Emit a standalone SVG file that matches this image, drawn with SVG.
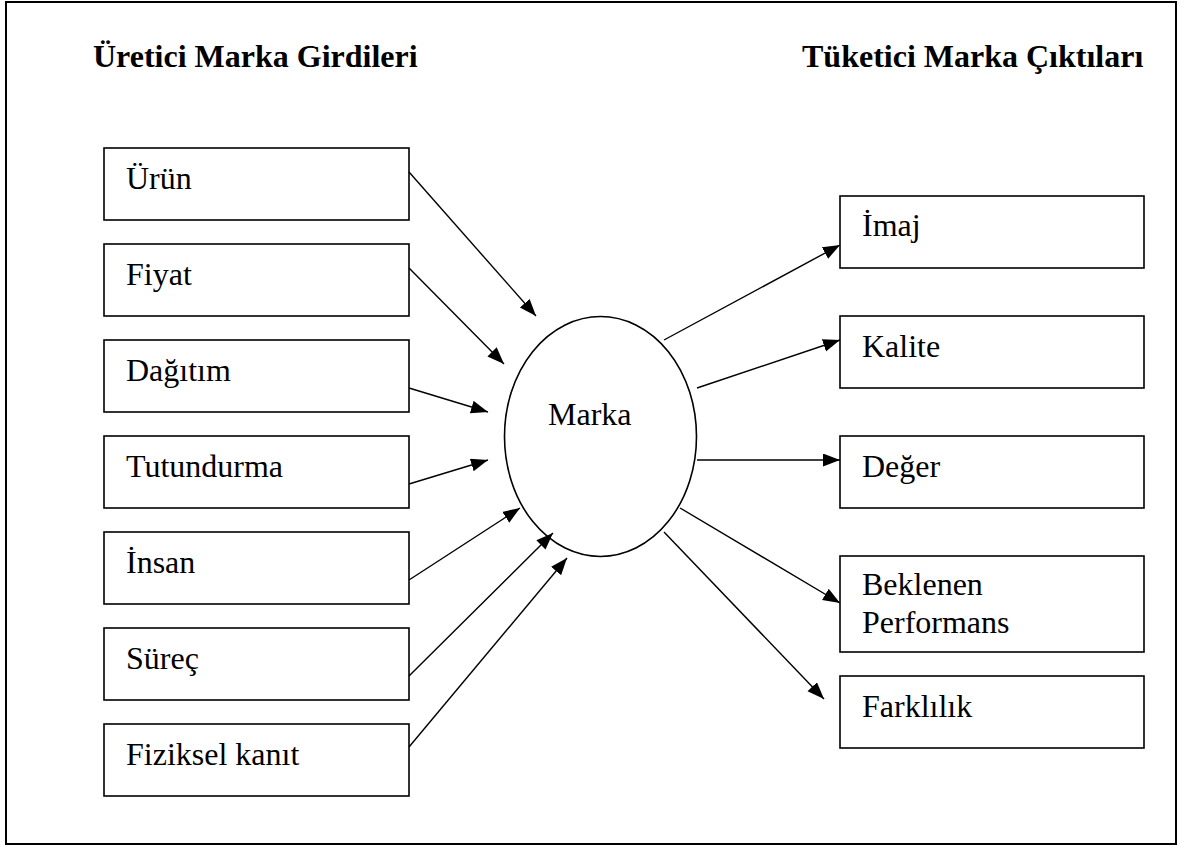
<svg xmlns="http://www.w3.org/2000/svg" width="1189" height="846" viewBox="0 0 1189 846">
<style>
.box{fill:#fff;stroke:#000;stroke-width:1.6}
.t{font-family:"Liberation Serif","Times New Roman",serif;font-size:32px;fill:#000}
.h{font-family:"Liberation Serif","Times New Roman",serif;font-size:32px;font-weight:bold;fill:#000}
.c{stroke:#000;stroke-width:1.4;fill:none;marker-end:url(#ah)}
</style>
<defs>
<marker id="ah" markerUnits="userSpaceOnUse" markerWidth="18" markerHeight="14" refX="17" refY="6.5" orient="auto">
<path d="M0,0 L17,6.5 L0,13 Z" fill="#000"/>
</marker>
</defs>
<rect x="0" y="0" width="1189" height="846" fill="#fff"/>
<rect x="6" y="2" width="1170" height="842" fill="none" stroke="#000" stroke-width="2"/>
<text class="h" x="93" y="67">Üretici Marka Girdileri</text>
<text class="h" x="802" y="67">Tüketici Marka Çıktıları</text>
<g id="n-urun"><rect class="box" x="104" y="148" width="305" height="72"/><text class="t" x="126" y="189">Ürün</text></g>
<g id="n-fiyat"><rect class="box" x="104" y="244" width="305" height="72"/><text class="t" x="126" y="285">Fiyat</text></g>
<g id="n-dagitim"><rect class="box" x="104" y="340" width="305" height="72"/><text class="t" x="126" y="381">Dağıtım</text></g>
<g id="n-tutundurma"><rect class="box" x="104" y="436" width="305" height="72"/><text class="t" x="126" y="477">Tutundurma</text></g>
<g id="n-insan"><rect class="box" x="104" y="532" width="305" height="72"/><text class="t" x="126" y="573">İnsan</text></g>
<g id="n-surec"><rect class="box" x="104" y="628" width="305" height="72"/><text class="t" x="126" y="669">Süreç</text></g>
<g id="n-fiziksel"><rect class="box" x="104" y="724" width="305" height="72"/><text class="t" x="126" y="765">Fiziksel kanıt</text></g>
<g id="n-marka"><ellipse cx="600.5" cy="436.5" rx="96" ry="120" fill="#fff" stroke="#000" stroke-width="1.6"/><text class="t" x="548" y="425">Marka</text></g>
<g id="n-imaj"><rect class="box" x="840" y="196" width="304" height="72"/><text class="t" x="862" y="236">İmaj</text></g>
<g id="n-kalite"><rect class="box" x="840" y="316" width="304" height="72"/><text class="t" x="862" y="357">Kalite</text></g>
<g id="n-deger"><rect class="box" x="840" y="436" width="304" height="72"/><text class="t" x="862" y="477">Değer</text></g>
<g id="n-beklenen"><rect class="box" x="840" y="556" width="304" height="96"/><text class="t" x="862" y="595">Beklenen</text><text class="t" x="862" y="633">Performans</text></g>
<g id="n-farklilik"><rect class="box" x="840" y="676" width="304" height="72"/><text class="t" x="862" y="717">Farklılık</text></g>
<g id="connectors">
<line class="c" x1="409" y1="172" x2="536" y2="316"/>
<line class="c" x1="409" y1="268" x2="504" y2="364"/>
<line class="c" x1="409" y1="388" x2="488" y2="412"/>
<line class="c" x1="409" y1="484" x2="488" y2="460"/>
<line class="c" x1="409" y1="580" x2="520" y2="508"/>
<line class="c" x1="409" y1="676" x2="553" y2="533"/>
<line class="c" x1="409" y1="747" x2="567" y2="558"/>
<line class="c" x1="664" y1="340" x2="840" y2="245"/>
<line class="c" x1="697" y1="388" x2="840" y2="340"/>
<line class="c" x1="697" y1="460" x2="840" y2="460"/>
<line class="c" x1="680" y1="508" x2="840" y2="603"/>
<line class="c" x1="664" y1="532" x2="824" y2="699"/>
</g>
</svg>
